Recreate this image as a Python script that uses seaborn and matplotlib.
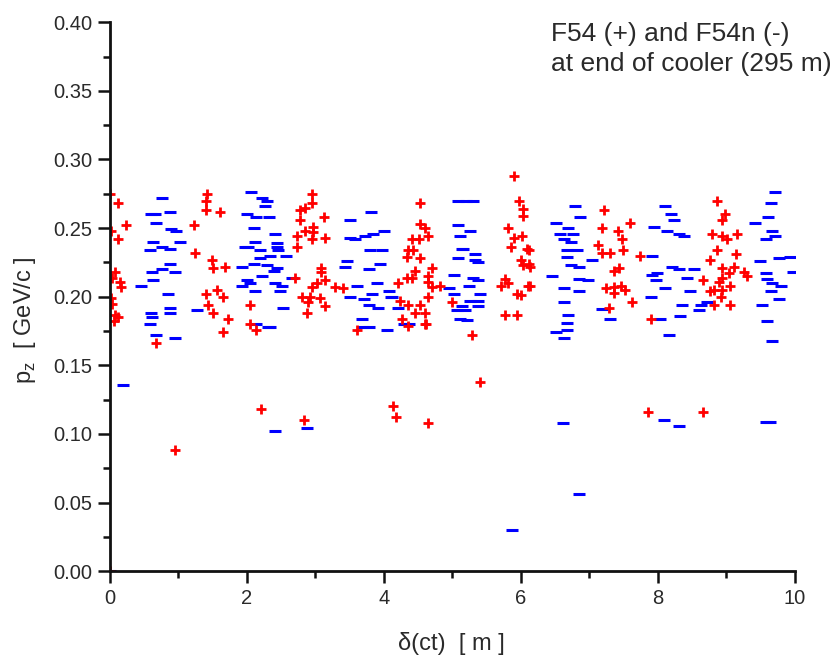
import matplotlib
matplotlib.use("Agg")
import matplotlib.pyplot as plt
from matplotlib.ticker import MultipleLocator, FormatStrFormatter
import seaborn as sns
import pandas as pd

# F54 (+) points: delta(ct) [m], pz [GeV/c]
plus_x = [0.0, 0.12, 0.23, 0.02, 0.12, 0.07, 0.03, 0.15, 0.16, 0.01, 0.03, 0.07, 0.12, 0.06, 0.68,
          1.23, 1.24, 1.42, 1.40, 1.41, 1.61, 1.49, 1.51, 1.68, 1.41, 1.44, 1.56, 1.66, 1.51, 1.73, 1.65,
          2.05, 2.05, 2.14, 2.95, 2.95, 2.85, 2.78, 2.78, 3.13, 2.97, 2.85, 2.97, 2.73, 2.95, 3.14, 2.73,
          3.09, 3.09, 2.70, 3.14, 3.02, 2.95, 3.29, 3.41, 2.80, 2.92, 3.07, 2.90, 3.14, 2.88, 3.61,
          4.53, 4.53, 4.60, 4.41, 4.51, 4.65, 4.36, 4.43, 4.34, 4.53, 4.46, 4.41, 4.34, 4.70, 4.65, 4.65,
          4.70, 4.21, 4.82, 4.65, 4.24, 4.36, 4.53, 4.46, 4.60, 4.26, 4.36, 4.60, 5.00, 5.29,
          5.90, 5.97, 6.04, 6.04, 5.82, 5.90, 6.02, 5.86, 6.09, 6.00, 6.04, 6.12, 5.77, 5.72, 5.82, 5.95,
          6.00, 6.10, 5.77, 5.95, 6.12, 6.14, 6.14,
          7.22, 7.19, 7.59, 7.42, 7.48, 7.49, 7.13, 7.19, 7.31, 7.75, 7.36, 7.43, 7.24, 7.36, 7.46, 7.53,
          7.36, 7.62, 7.29, 7.91,
          8.87, 8.99, 8.94, 8.80, 8.94, 9.02, 9.16, 8.87, 9.15, 8.77, 8.94, 9.11, 9.04, 8.94, 9.26, 9.31,
          8.67, 8.89, 9.06, 8.82, 8.94, 8.77, 8.92, 8.82, 9.06,
          0.95, 2.21, 2.83, 4.13, 4.18, 4.62, 5.41, 4.65, 7.86, 8.67, 0.0]
plus_y = [0.275, 0.268, 0.252, 0.248, 0.242, 0.218, 0.214, 0.211, 0.207, 0.199, 0.195, 0.187, 0.185, 0.182, 0.166,
          0.252, 0.232, 0.275, 0.270, 0.263, 0.262, 0.227, 0.221, 0.222, 0.202, 0.194, 0.205, 0.200, 0.188, 0.184, 0.174,
          0.194, 0.180, 0.176, 0.275, 0.268, 0.265, 0.263, 0.256, 0.258, 0.251, 0.248, 0.247, 0.244, 0.242, 0.243, 0.236,
          0.221, 0.218, 0.214, 0.212, 0.210, 0.207, 0.207, 0.206, 0.200, 0.200, 0.199, 0.196, 0.193, 0.188, 0.176,
          0.268, 0.253, 0.250, 0.242, 0.242, 0.244, 0.234, 0.234, 0.229, 0.228, 0.219, 0.214, 0.214, 0.221, 0.215, 0.211,
          0.207, 0.210, 0.208, 0.200, 0.197, 0.194, 0.194, 0.188, 0.188, 0.184, 0.179, 0.180, 0.196, 0.172,
          0.288, 0.270, 0.264, 0.259, 0.250, 0.243, 0.244, 0.236, 0.235, 0.227, 0.223, 0.224, 0.213, 0.208, 0.210, 0.202,
          0.201, 0.208, 0.187, 0.187, 0.234, 0.222, 0.208,
          0.263, 0.250, 0.254, 0.248, 0.242, 0.234, 0.238, 0.232, 0.232, 0.230, 0.219, 0.221, 0.206, 0.207, 0.208, 0.205,
          0.203, 0.196, 0.192, 0.184,
          0.270, 0.260, 0.256, 0.246, 0.244, 0.242, 0.246, 0.234, 0.231, 0.227, 0.221, 0.222, 0.217, 0.214, 0.218, 0.215,
          0.212, 0.211, 0.208, 0.205, 0.205, 0.204, 0.200, 0.194, 0.194,
          0.088, 0.118, 0.110, 0.120, 0.112, 0.180, 0.138, 0.108, 0.116, 0.116, 0.0]

# F54n (-) points
minus_x = [0.76, 0.60, 0.66, 0.88, 0.68, 0.90, 0.96, 0.63, 1.02, 0.58, 0.76, 0.88, 0.88, 0.61, 0.76, 0.95,
           0.63, 0.46, 0.85, 0.88, 0.88, 1.27, 0.60, 0.62, 0.58, 0.68, 0.95, 0.19,
           2.00, 1.97, 1.93, 1.93, 2.00, 2.06, 2.22, 2.29, 2.27, 2.14, 2.32, 2.10, 2.41, 2.12, 2.44, 2.44,
           2.02, 2.19, 2.46, 2.34, 2.58, 2.19, 2.10, 2.29, 2.44, 2.40, 2.22, 2.66, 2.05, 2.41, 2.51, 2.12,
           2.49, 2.53, 2.14, 2.34, 2.31, 2.41, 2.88,
           3.51, 3.82, 3.51, 3.58, 3.73, 3.85, 4.00, 3.80, 3.97, 3.46, 3.44, 3.78, 3.95, 3.61, 3.90, 3.51,
           3.71, 3.83, 3.78, 3.92, 4.10, 3.68, 3.78, 4.05, 4.07, 4.12, 4.21, 4.29, 4.37, 3.70,
           5.08, 5.20, 5.30, 5.09, 5.26, 5.12, 5.14, 5.16, 5.34, 5.09, 5.34, 5.38, 5.02, 5.31, 5.38, 4.95,
           5.24, 5.02, 5.41, 5.26, 5.38, 5.14, 5.38, 5.07, 5.19, 5.12, 5.21, 5.87,
           6.79, 6.87, 6.51, 6.69, 6.58, 6.77, 6.63, 6.73, 6.68, 6.82, 6.68, 7.04, 6.73, 6.85, 6.46, 6.85,
           6.99, 6.63, 6.85, 6.63, 6.69, 6.68, 6.68, 6.51, 6.63, 6.62, 6.85,
           7.92, 7.94, 8.11, 8.14, 7.99, 7.92, 7.97, 8.11, 7.91, 8.03, 7.19, 7.31, 8.16,
           8.19, 8.24, 8.31, 8.38, 8.21, 8.31, 8.53, 8.43, 8.48, 8.36, 8.63, 8.72, 8.60, 8.33, 8.09, 8.31,
           9.72, 9.65, 9.61, 9.42, 9.67, 9.72, 9.59, 9.50, 9.77, 9.94, 9.97, 9.59, 9.60, 9.67, 9.80, 9.65,
           9.77, 9.53, 9.60, 9.67, 9.58, 9.64, 0.0]
minus_y = [0.272, 0.260, 0.260, 0.262, 0.254, 0.249, 0.248, 0.240, 0.240, 0.234, 0.236, 0.235, 0.224, 0.218, 0.220, 0.218,
           0.212, 0.208, 0.202, 0.192, 0.188, 0.190, 0.188, 0.185, 0.180, 0.172, 0.170, 0.136,
           0.260, 0.236, 0.222, 0.208, 0.212, 0.276, 0.272, 0.270, 0.266, 0.258, 0.258, 0.250, 0.246, 0.240, 0.239, 0.236,
           0.236, 0.234, 0.234, 0.230, 0.230, 0.228, 0.224, 0.223, 0.221, 0.219, 0.215, 0.214, 0.210, 0.210, 0.208, 0.204,
           0.204, 0.192, 0.180, 0.178, 0.178, 0.102, 0.104,
           0.256, 0.262, 0.243, 0.242, 0.244, 0.246, 0.248, 0.234, 0.234, 0.226, 0.222, 0.220, 0.224, 0.208, 0.210, 0.200,
           0.198, 0.202, 0.194, 0.192, 0.200, 0.184, 0.178, 0.176, 0.204, 0.200, 0.192, 0.180, 0.180, 0.178,
           0.270, 0.270, 0.270, 0.252, 0.248, 0.244, 0.235, 0.235, 0.231, 0.228, 0.227, 0.225, 0.216, 0.214, 0.212, 0.206,
           0.208, 0.202, 0.202, 0.197, 0.197, 0.193, 0.193, 0.190, 0.190, 0.184, 0.183, 0.030,
           0.266, 0.258, 0.254, 0.250, 0.246, 0.246, 0.242, 0.240, 0.234, 0.234, 0.229, 0.227, 0.223, 0.222, 0.215, 0.213,
           0.212, 0.206, 0.204, 0.196, 0.187, 0.181, 0.176, 0.174, 0.170, 0.108, 0.056,
           0.230, 0.251, 0.266, 0.248, 0.217, 0.216, 0.212, 0.206, 0.200, 0.184, 0.191, 0.184, 0.172,
           0.260, 0.256, 0.246, 0.244, 0.222, 0.220, 0.220, 0.214, 0.204, 0.194, 0.194, 0.196, 0.190, 0.186, 0.110, 0.106,
           0.276, 0.268, 0.258, 0.254, 0.248, 0.244, 0.242, 0.226, 0.228, 0.229, 0.218, 0.217, 0.213, 0.210, 0.208, 0.204,
           0.198, 0.194, 0.182, 0.168, 0.109, 0.109, 0.0]

sns.set_style("ticks")
plt.rcParams["font.family"] = ["Liberation Sans", "DejaVu Sans"]

plus_df = pd.DataFrame({"x": plus_x, "y": plus_y})
minus_df = pd.DataFrame({"x": minus_x, "y": minus_y})

fig = plt.figure(figsize=(8.32, 6.55), dpi=100)
ax = fig.add_axes([0.132, 0.128, 0.823, 0.838])

sns.scatterplot(data=minus_df, x="x", y="y", marker="_", s=80, linewidth=2.2,
                color="#0000ff", ax=ax, legend=False)
sns.scatterplot(data=plus_df, x="x", y="y", marker="+", s=62, linewidth=2.0,
                color="#ff0000", ax=ax, legend=False)

ax.set_xlim(0, 10)
ax.set_ylim(0, 0.40)
ax.xaxis.set_major_locator(MultipleLocator(2))
ax.xaxis.set_minor_locator(MultipleLocator(1))
ax.yaxis.set_major_locator(MultipleLocator(0.05))
ax.yaxis.set_minor_locator(MultipleLocator(0.025))
ax.yaxis.set_major_formatter(FormatStrFormatter("%.2f"))

sns.despine(ax=ax)
for side in ["left", "bottom"]:
    ax.spines[side].set_linewidth(2.0)
    ax.spines[side].set_color("#111111")
ax.tick_params(which="major", direction="out", length=8.5, width=1.8, colors="#111111",
               labelsize=14.5, labelcolor="#2a2a2a", pad=4)
ax.tick_params(which="minor", direction="out", length=5, width=1.8, colors="#111111")

ax.set_xlabel("δ(ct)  [ m ]", fontsize=17, color="#2a2a2a")
ax.set_ylabel("p$_\\mathregular{z}$  [ GeV/c ]", fontsize=17, color="#2a2a2a")
ax.xaxis.set_label_coords(0.499, -0.131)
ax.xaxis.label.set_va("center")
ax.yaxis.set_label_coords(-0.124, 0.457)
ax.yaxis.label.set_va("center")

ax.text(0.645, 1.0, "F54 (+) and F54n (-)\nat end of cooler (295 m)", transform=ax.transAxes,
        fontsize=19, color="#2a2a2a", va="top", ha="left", linespacing=1.3)

fig.savefig("out.png", dpi=100)
